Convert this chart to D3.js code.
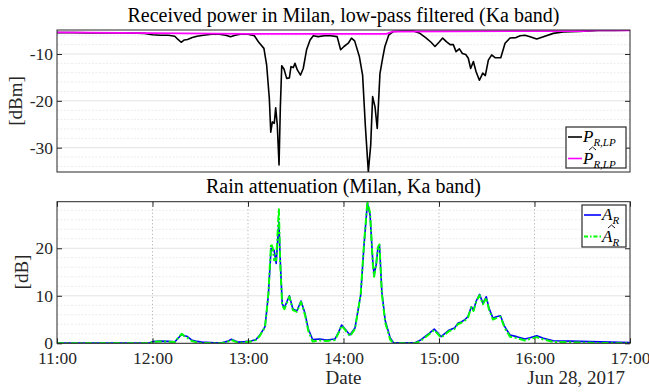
<!DOCTYPE html>
<html>
<head>
<meta charset="utf-8">
<script src="https://cdn.jsdelivr.net/npm/d3@7"></script>
<style>
    body { margin: 0; background: #fff; }
    text { font-family: "Liberation Serif", "Times New Roman", serif; fill: #262626; }
</style>
</head>
<body>
<div id="chart"></div>
<script>
// minutes after 11:00, Jun 28 2017
var timeP = [0,10,20,30,40,50,55,60,65,70,74,76,78,80,82,85,88,92,97,102,106,109,112,115,120,124,126.5,130,131.7,133.4,
    134.3,135.3,136.5,137.4,138.4,139.5,140.3,141.2,142.6,144.3,146,147,148.5,149.5,151,153,154.7,156.8,159,161,
    164,168,172,176,178.2,180.3,183,185,187,190,192,193.7,195.6,197.1,198.3,199.8,201.2,202.9,204.6,206,
    208.5,211.3,218,224,228,232,235,237.5,240,242.3,244.8,247,249,250.7,252.8,254.7,256.8,258.4,259.9,261.6,
    263.3,265.4,267.5,269.1,271,273.1,275.2,278.8,281.5,284.6,288.4,291,294,297.2,301.4,305.6,311.8,318,328,340,350,360];
var powerP = [-5.45,-5.45,-5.5,-5.5,-5.5,-5.55,-5.6,-5.9,-6.0,-6.0,-6.2,-6.9,-7.5,-7.0,-6.9,-6.5,-6.2,-6.0,-5.8,-5.8,
    -6.0,-6.3,-6.0,-5.8,-5.8,-6.1,-7.4,-8.8,-12.3,-19.5,-26.7,-24.5,-24.8,-21.5,-25.2,-33.7,-21.6,-12.5,-13.2,-15.2,
    -15.1,-12.7,-12.9,-12.0,-13.4,-14.5,-13.1,-9.1,-7.0,-6.1,-6.3,-6.1,-6.1,-6.3,-9.1,-8.4,-7.7,-6.6,-7.2,-10.6,
    -14.5,-25.2,-35.1,-29.4,-19.1,-21.3,-25.9,-14.2,-10.9,-8.4,-5.9,-5.2,-5.1,-5.1,-5.6,-6.6,-7.5,-8.4,-7.5,-6.6,
    -7.4,-8.0,-8.0,-9.5,-8.9,-9.9,-10.1,-10.9,-13.1,-11.6,-13.8,-15.6,-14.1,-14.6,-11.3,-10.2,-10.8,-10.8,-7.7,-6.6,
    -6.5,-6.1,-6.0,-6.3,-6.8,-6.3,-5.6,-5.3,-5.2,-5.0,-4.95,-4.9];

var timeHat = [0,60,120,207,211.3,330,338,360];
var powerHat = [-5.4,-5.55,-5.7,-5.7,-5.2,-5.1,-4.95,-4.95];

var timeA = [0,30,58,60,65,70,74,76,78.3,80,81.5,84.6,88,91,99,104,107,109.6,112,114,
    118,122,125,127.5,130.7,132.8,134.5,135.6,136.4,137.7,139.4,140.2,141.5,142.9,146,148.2,150.7,153.3,155.8,157.9,
    160.6,165,169.4,174.6,177.1,178.8,181.5,184,187.2,190.8,192.9,195,196.7,198.4,199.2,200.5,201.6,202.6,204.1,206.2,
    209.3,211.4,225,228.5,233.8,237,241.3,246.5,249.7,251.8,253.9,256,258.2,260.3,261.7,263.4,265.5,267.6,269.7,271.4,
    273.9,276,278.6,281.3,284.6,288.8,294,297.2,301.4,305.6,311.8,322.3,334.8,360];
var attenA = [0.05,0.05,0.05,0.35,0.45,0.4,0.3,1.0,1.9,1.6,1.5,0.7,0.4,0.25,0.1,0.15,0.4,0.85,0.5,0.25,
    0.35,0.5,0.8,1.75,3.5,10.2,20,19.5,19.6,16.8,25.5,18,8.3,7.5,10,7.2,6.8,8.9,6.3,3,
    0.8,0.9,0.7,0.9,2.45,3.85,2.8,1.75,3.2,10.2,20.7,29.5,27,17.2,14.5,16.5,20,20.7,10.8,4.8,
    1.2,0.15,0.1,0.7,2.1,3.0,1.4,2.8,3.2,4.2,4.5,4.9,5.6,7.7,7.0,8.9,10.3,8.4,9.8,7.4,
    5.3,5.6,5.8,3.5,1.75,1.4,0.9,1.15,1.6,1.05,0.55,0.45,0.35,0.15];
var attenHat = [0,0,0,0.3,0.4,0.35,0.25,1.1,2.0,1.5,1.3,0.5,0.2,0.05,0,0.05,0.3,0.7,0.35,0.1,
    0.2,0.4,0.7,1.6,3.4,10.5,21,20,17.5,17.5,28.4,17.2,7.9,7.2,9.8,7.0,6.6,8.7,6.0,2.6,
    0.4,0.6,0.5,0.7,2.3,3.7,2.6,1.5,3.0,10.3,21,29.8,27.5,16.8,14,16.5,20.2,20.8,10.4,4.4,
    0.8,0,0,0.5,1.9,2.8,1.2,2.6,3.0,4.0,4.3,4.7,5.4,7.6,6.8,8.8,10.1,8.2,9.6,7.1,
    5.0,5.3,5.6,3.2,1.4,1.1,0.6,0.9,1.3,0.8,0.3,0.2,0.1,0];

var powerTicks = [-30, -20, -10];
var attenTicks = [0, 10, 20];

var w = 649, h = 392;
var t0 = new Date(2017, 5, 28, 11, 0);
function toDate(m) { return new Date(t0.getTime() + m * 60000); }

var x = d3.scaleTime().domain([t0, toDate(360)]).range([57, 630]);
var yP = d3.scaleLinear().domain([-35.19, -4.88]).range([172, 30]);
var yA = d3.scaleLinear().domain([0, 29.8]).range([343.3, 201.7]);
var hourTicks = d3.range(0, 361, 60).map(toDate);

var svg = d3.select("#chart").append("svg")
    .attr("width", w)
    .attr("height", h);

var ink = "#262626";

function panel(y, ticks, minorStep, vgrid, id) {
    var xr = x.range(), yr = y.range();
    var g = svg.append("g");

    // minor grid
    var minor = d3.range(Math.ceil(y.domain()[0] / minorStep) * minorStep, y.domain()[1], minorStep)
        .filter(function (d) { return ticks.indexOf(d) < 0; });
    g.selectAll(".minor").data(minor).enter().append("line")
        .attr("x1", xr[0]).attr("x2", xr[1])
        .attr("y1", function (d) { return y(d); }).attr("y2", function (d) { return y(d); })
        .attr("stroke", "#ececec").attr("stroke-dasharray", "2,1.5");
    // major grid
    g.selectAll(".major").data(ticks).enter().append("line")
        .attr("x1", xr[0]).attr("x2", xr[1])
        .attr("y1", function (d) { return y(d); }).attr("y2", function (d) { return y(d); })
        .attr("stroke", "#e3e3e3");
    if (vgrid) {
        g.selectAll(".vgrid").data(hourTicks.slice(1, -1)).enter().append("line")
            .attr("x1", function (d) { return x(d); }).attr("x2", function (d) { return x(d); })
            .attr("y1", yr[0]).attr("y2", yr[1])
            .attr("stroke", "#a8a8a8").attr("stroke-dasharray", "1,2.5");
    }

    svg.append("clipPath").attr("id", id)
        .append("rect")
        .attr("x", xr[0]).attr("y", yr[1])
        .attr("width", xr[1] - xr[0]).attr("height", yr[0] - yr[1]);
    return g;
}

function frame(y, ticks, withX) {
    var xr = x.range(), yr = y.range();
    var left = svg.append("g")
        .attr("transform", "translate(" + xr[0] + ",0)")
        .call(d3.axisLeft(y).tickValues(ticks).tickSize(-5).tickPadding(4)
            .tickFormat(function (d) { return String(d); }));
    var right = svg.append("g")
        .attr("transform", "translate(" + xr[1] + ",0)")
        .call(d3.axisRight(y).tickValues(ticks).tickSize(-5).tickFormat(""));
    var axes = [left, right];
    if (withX) {
        axes.push(svg.append("g")
            .attr("transform", "translate(0," + yr[0] + ")")
            .call(d3.axisBottom(x).tickValues(hourTicks).tickSize(-5).tickPadding(8.5)
                .tickFormat(d3.timeFormat("%H:%M"))));
        axes.push(svg.append("g")
            .attr("transform", "translate(0," + yr[1] + ")")
            .call(d3.axisTop(x).tickValues(hourTicks).tickSize(-5).tickFormat("")));
    }
    axes.forEach(function (a) {
        a.select(".domain").remove();
        a.attr("font-size", 17.5).attr("font-family", null);
        a.selectAll(".tick line").attr("stroke", ink);
    });
    svg.append("rect")
        .attr("x", xr[0]).attr("y", yr[1])
        .attr("width", xr[1] - xr[0]).attr("height", yr[0] - yr[1])
        .attr("fill", "none").attr("stroke", ink).attr("stroke-width", 1);
}

panel(yP, powerTicks, 2, false, "clipP");
panel(yA, attenTicks, 2, true, "clipA");

var lineP = d3.line()
    .x(function (d) { return x(toDate(d[0])); })
    .y(function (d) { return yP(d[1]); });
var lineA = d3.line()
    .x(function (d) { return x(toDate(d[0])); })
    .y(function (d) { return yA(d[1]); });

svg.append("path")
    .datum(d3.zip(timeP, powerP))
    .attr("clip-path", "url(#clipP)")
    .attr("d", lineP)
    .attr("fill", "none").attr("stroke", "#000").attr("stroke-width", 1.6)
    .attr("stroke-linejoin", "round");
svg.append("path")
    .datum(d3.zip(timeHat, powerHat))
    .attr("clip-path", "url(#clipP)")
    .attr("d", lineP)
    .attr("fill", "none").attr("stroke", "#ff00ff").attr("stroke-width", 1.8);

svg.append("path")
    .datum(d3.zip(timeA, attenA))
    .attr("clip-path", "url(#clipA)")
    .attr("d", lineA)
    .attr("fill", "none").attr("stroke", "#0000ff").attr("stroke-width", 1.6)
    .attr("stroke-linejoin", "round");
svg.append("path")
    .datum(d3.zip(timeA, attenHat))
    .attr("clip-path", "url(#clipA)")
    .attr("d", lineA)
    .attr("fill", "none").attr("stroke", "#00ff00").attr("stroke-width", 2)
    .attr("stroke-dasharray", "7,2.5,2,2.5")
    .attr("stroke-linejoin", "round");

frame(yP, powerTicks, false);
frame(yA, attenTicks, true);

// titles and labels
var cx = (x.range()[0] + x.range()[1]) / 2;
svg.append("text").attr("x", cx).attr("y", 22).attr("text-anchor", "middle")
    .attr("font-size", 20).style("fill", "#000")
    .text("Received power in Milan, low-pass filtered (Ka band)");
svg.append("text").attr("x", cx).attr("y", 193).attr("text-anchor", "middle")
    .attr("font-size", 20).style("fill", "#000")
    .text("Rain attenuation (Milan, Ka band)");
svg.append("text").attr("transform", "translate(22,101) rotate(-90)")
    .attr("text-anchor", "middle").attr("font-size", 19)
    .text("[dBm]");
svg.append("text").attr("transform", "translate(28,272) rotate(-90)")
    .attr("text-anchor", "middle").attr("font-size", 19)
    .text("[dB]");
svg.append("text").attr("x", cx).attr("y", 384).attr("text-anchor", "middle")
    .attr("font-size", 19).text("Date");
svg.append("text").attr("x", 625).attr("y", 384).attr("text-anchor", "end")
    .attr("font-size", 19).text("Jun 28, 2017");

// legends
function legend(x0, y0, bw, bh, items) {
    var lg = svg.append("g").attr("transform", "translate(" + x0 + "," + y0 + ")");
    lg.append("rect").attr("width", bw).attr("height", bh)
        .attr("fill", "#fff").attr("stroke", "#3a3a3a").attr("stroke-width", 1.3);
    items.forEach(function (it, i) {
        var yy = 10 + i * 21.5;
        lg.append("line").attr("x1", 2).attr("x2", it.len).attr("y1", yy).attr("y2", yy)
            .attr("stroke", it.color).attr("stroke-width", it.width || 1.6)
            .attr("stroke-dasharray", it.dash || null);
        var t = lg.append("text").attr("x", it.len + 1).attr("y", yy + 5)
            .attr("font-size", 17).style("font-style", "italic").style("fill", "#000");
        t.append("tspan").text(it.main);
        t.append("tspan").attr("dy", 4).attr("font-size", 11).text(it.sub);
        if (it.hat) {
            // circumflex accent above the symbol
            var hx = it.len + 7, hy = yy - 8.5;
            lg.append("path")
                .attr("d", "M" + hx + "," + hy + "L" + (hx + 3.5) + "," + (hy - 3) + "L" + (hx + 7) + "," + hy)
                .attr("fill", "none").attr("stroke", "#000").attr("stroke-width", 0.9);
        }
    });
}

legend(566, 127, 60, 41, [
    {color: "#000", len: 16, main: "P", sub: "R,LP"},
    {color: "#ff00ff", len: 16, main: "P", sub: "R,LP", hat: true}
]);
legend(582, 205, 44, 42, [
    {color: "#0000ff", len: 19, main: "A", sub: "R"},
    {color: "#00ff00", len: 19, main: "A", sub: "R", hat: true, dash: "4,2,1.5,2", width: 2}
]);
</script>
</body>
</html>
